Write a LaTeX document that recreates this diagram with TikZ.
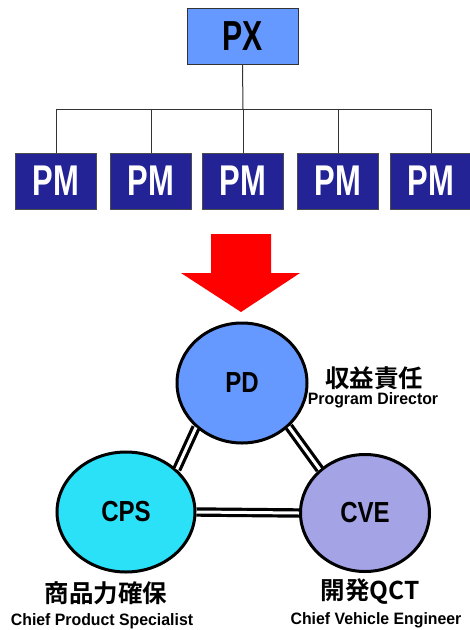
\documentclass[tikz,border=0pt]{standalone}
\usepackage{fontspec}
\setmainfont{Liberation Sans}
\newfontfamily\bigcond{Liberation Sans Bold}[FakeStretch=0.72]
\newfontfamily\midcond{Liberation Sans Bold}[FakeStretch=0.83]
\newfontfamily\labfont{Liberation Sans Bold}[FakeStretch=0.96]
\newfontfamily\cjk{Noto Sans CJK JP Bold}
\definecolor{pxblue}{HTML}{6699FF}
\definecolor{pmnavy}{HTML}{232396}
\definecolor{cpscyan}{HTML}{2BE1F7}
\definecolor{cvelav}{HTML}{A3A3E6}
\definecolor{arrred}{HTML}{FF0000}
\tikzset{
  pxbox/.style={draw=black!80, line width=1pt, fill=pxblue, minimum width=111pt, minimum height=56pt, inner sep=0pt,
    font=\bigcond\fontsize{42}{42}\selectfont, text=black},
  pmbox/.style={draw=black!70, line width=1pt, fill=pmnavy, minimum width=81pt, minimum height=56pt, inner sep=0pt,
    font=\bigcond\fontsize{43}{43}\selectfont, text=white},
  role/.style={ellipse, draw=black, line width=3pt, inner sep=0pt,
    font=\midcond\fontsize{29}{29}\selectfont, text=black},
  tree/.style={draw=black!80, line width=1pt},
  link/.style={line width=3.2pt, double=white, double distance=3pt},
  cjklab/.style={font=\cjk\fontsize{24.5}{24.5}\selectfont, inner sep=0pt},
  enlab/.style={font=\labfont\fontsize{16.5}{16.5}\selectfont, inner sep=0pt, anchor=base},
}
\usetikzlibrary{shapes.geometric}
\begin{document}
\begin{tikzpicture}[x=1pt, y=-1pt]
\useasboundingbox (0,0) rectangle (470,630);
% tree
\node[pxbox] (PX) at (242.5,36) {PX};
\node[pmbox] (PM1) at (56,181) {PM};
\node[pmbox] (PM2) at (151,181) {PM};
\node[pmbox] (PM3) at (243,181) {PM};
\node[pmbox] (PM4) at (338,181) {PM};
\node[pmbox] (PM5) at (431,181) {PM};
\coordinate (bus) at (243,109);
\draw[tree] (PX.south) -- (bus);
\foreach \i in {1,...,5} {\draw[tree] (PM\i.north) |- (bus);}
% red arrow
\fill[arrred] (211,234) -- (271,234) -- (271,273) -- (300,273) -- (241,312) -- (181,273) -- (211,273) -- cycle;
% roles
\node[role, fill=pxblue, minimum width=130pt, minimum height=120pt] (PD) at (242,383) {PD};
\node[role, fill=cpscyan, minimum width=138pt, minimum height=120pt] (CPS) at (126,512) {CPS};
\node[role, fill=cvelav, minimum width=129pt, minimum height=117pt] (CVE) at (365,513) {CVE};
\draw[link] (PD.224) -- (CPS.40);
\draw[link] (PD.317) -- (CVE.136);
\draw[link] (CPS.east) -- (CVE.west);
% labels
\node[cjklab] (t1) at (374,378) {収益責任};
\node[enlab] (e1) at (373,404) {Program Director};
\node[cjklab] (t2) at (106,593) {商品力確保};
\node[enlab] (e2) at (102,625) {Chief Product Specialist};
\node[cjklab] (t3) at (370,592) {開発QCT};
\node[enlab] (e3) at (376,624) {Chief Vehicle Engineer};
\end{tikzpicture}
\end{document}
